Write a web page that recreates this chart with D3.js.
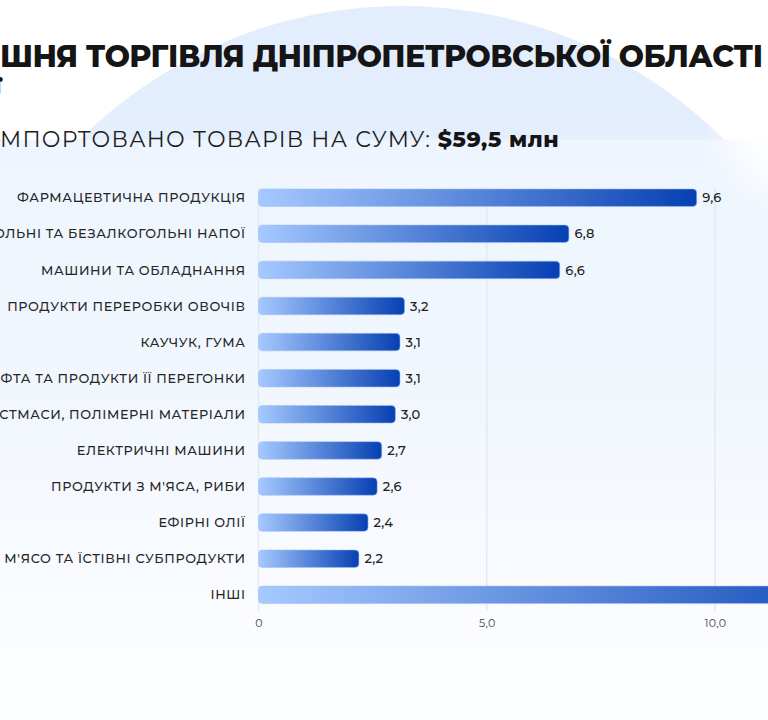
<!DOCTYPE html>
<html><head><meta charset="utf-8">
<script src="https://cdn.jsdelivr.net/npm/d3@7"></script>
<style>html,body{margin:0;padding:0;background:#fff;overflow:hidden}svg{display:block}</style>
</head><body><svg id="c" width="768" height="720"></svg>
<script>
// ---- data ----
const titleLines = ["ЗОВНІШНЯ ТОРГІВЛЯ ДНІПРОПЕТРОВСЬКОЇ ОБЛАСТІ ТА", "ІТАЛІЇ"];
const subtitleText = "ІМПОРТОВАНО ТОВАРІВ НА СУМУ:";
const subtitleValue = "$59,5 млн";
const categories = [
  "ФАРМАЦЕВТИЧНА ПРОДУКЦІЯ",
  "АЛКОГОЛЬНІ ТА БЕЗАЛКОГОЛЬНІ НАПОЇ",
  "МАШИНИ ТА ОБЛАДНАННЯ",
  "ПРОДУКТИ ПЕРЕРОБКИ ОВОЧІВ",
  "КАУЧУК, ГУМА",
  "НАФТА ТА ПРОДУКТИ ЇЇ ПЕРЕГОНКИ",
  "ПЛАСТМАСИ, ПОЛІМЕРНІ МАТЕРІАЛИ",
  "ЕЛЕКТРИЧНІ МАШИНИ",
  "ПРОДУКТИ З М'ЯСА, РИБИ",
  "ЕФІРНІ ОЛІЇ",
  "М'ЯСО ТА ЇСТІВНІ СУБПРОДУКТИ",
  "ІНШІ"
];
const values = [9.6, 6.8, 6.6, 3.2, 3.1, 3.1, 3.0, 2.7, 2.6, 2.4, 2.2, 14.2];
const xTicks = [0, 5, 10, 15];

// ---- setup ----
const locale = d3.formatLocale({decimal: ",", thousands: " ", grouping: [3], currency: ["$", ""]});
const f1 = locale.format(".1f");
const tickFmt = d => d === 0 ? "0" : f1(d);

const svg = d3.select("#c");
const W = 768, H = 720;
const defs = svg.append("defs");
const FONT = "Montserrat, Inter, 'Noto Sans', sans-serif";

// background
svg.append("rect").attr("width", W).attr("height", H).attr("fill", "#ffffff");
const cg = defs.append("linearGradient").attr("id", "circ").attr("x1", 0).attr("y1", 0).attr("x2", 0).attr("y2", 1);
cg.append("stop").attr("offset", "0%").attr("stop-color", "#e2edfd");
cg.append("stop").attr("offset", "100%").attr("stop-color", "#eef5fe");
svg.append("circle").attr("cx", 402).attr("cy", 461).attr("r", 455).attr("fill", "url(#circ)");

const pg = defs.append("linearGradient").attr("id", "panel").attr("x1", 0).attr("y1", 0).attr("x2", 0).attr("y2", 1);
[["0%", "#eef5fe"], ["45%", "#f2f7fe"], ["75%", "#f9fbff"], ["85%", "#fcfdff"], ["100%", "#fdfeff"]]
  .forEach(([o, c]) => pg.append("stop").attr("offset", o).attr("stop-color", c));
svg.append("rect").attr("x", -40).attr("y", 139.5).attr("width", 840).attr("height", 600).attr("fill", "url(#panel)");

const glow = defs.append("radialGradient").attr("id", "glow");
glow.append("stop").attr("offset", "0%").attr("stop-color", "#ffffff").attr("stop-opacity", 1);
glow.append("stop").attr("offset", "45%").attr("stop-color", "#ffffff").attr("stop-opacity", 0.9);
glow.append("stop").attr("offset", "100%").attr("stop-color", "#ffffff").attr("stop-opacity", 0);
svg.append("circle").attr("cx", 800).attr("cy", 125).attr("r", 100).attr("fill", "url(#glow)");

// helper to measure text
function measure(txt, size, weight, ls) {
  const t = svg.append("text").attr("font-family", FONT).attr("font-size", size)
    .attr("font-weight", weight).attr("letter-spacing", ls || 0).text(txt);
  const w = t.node().getComputedTextLength();
  t.remove();
  return w;
}

// ---- title ----
defs.append("clipPath").attr("id", "tclip").append("rect").attr("x", -300).attr("y", 0).attr("width", 1400).attr("height", 93.5);
const tSize = 30, tW = 800;
const visible1 = "ШНЯ ТОРГІВЛЯ ДНІПРОПЕТРОВСЬКОЇ ОБЛАСТІ";
const w0 = measure(visible1, tSize, tW, 0);
const tls = (763 - w0) / (visible1.length - 1);
const tx1 = -measure("ЗОВНІ", tSize, tW, tls);
const tx2 = -measure(titleLines[1].slice(0, -1), tSize, tW, tls) - 8;
const tg = svg.append("g").attr("clip-path", "url(#tclip)");
tg.selectAll("text").data(titleLines).join("text")
  .attr("x", (d, i) => i === 0 ? tx1 : tx2).attr("y", (d, i) => 67.3 + i * 37.5)
  .attr("font-family", FONT).attr("font-size", tSize).attr("font-weight", tW)
  .attr("letter-spacing", tls).attr("fill", "#151515").text(d => d);

// ---- subtitle ----
const sSize = 22;
const sw0 = measure(subtitleText.slice(1), sSize, 400, 0);
const sls = (430 - sw0) / (subtitleText.length - 2);
const sHidden = measure(subtitleText.slice(0, 1), sSize, 400, sls);
svg.append("text").attr("x", -sHidden).attr("y", 147)
  .attr("font-family", FONT).attr("font-size", sSize).attr("font-weight", 400)
  .attr("letter-spacing", sls).attr("fill", "#1e1e1e").text(subtitleText);
const vw0 = measure(subtitleValue, sSize, 800, 0);
const vls = (121 - vw0) / (subtitleValue.length - 1);
svg.append("text").attr("x", 437.7).attr("y", 147)
  .attr("font-family", FONT).attr("font-size", sSize).attr("font-weight", 800)
  .attr("letter-spacing", vls).attr("fill", "#151515").text(subtitleValue);

// ---- scales ----
const x0 = 258.5, unit = 45.65;
const x = d3.scaleLinear().domain([0, 15]).range([x0, x0 + 15 * unit]);
const step = 36.1, firstCenter = 197.7;
const y = d3.scaleBand().domain(categories)
  .range([firstCenter - step / 2, firstCenter - step / 2 + step * categories.length])
  .paddingInner(0.515).paddingOuter(0.2575);

// grid
svg.append("g").selectAll("line").data(xTicks).join("line")
  .attr("x1", d => x(d)).attr("x2", d => x(d))
  .attr("y1", 188).attr("y2", 611)
  .attr("stroke", "#e3e9f1").attr("stroke-width", 1.4);

// axis labels
const axis = d3.axisBottom(x).tickValues(xTicks).tickFormat(tickFmt).tickSize(0).tickPadding(0);
const ag = svg.append("g").attr("transform", "translate(0,619)").call(axis);
ag.select(".domain").remove();
ag.selectAll("text").attr("font-family", FONT).attr("font-size", 11).attr("fill", "#444")
  .attr("dy", "0.71em").attr("letter-spacing", 0.3);

// bars
const bg = defs.append("linearGradient").attr("id", "barg").attr("x1", 0).attr("y1", 0).attr("x2", 1).attr("y2", 0);
bg.append("stop").attr("offset", "0%").attr("stop-color", "#a6c9ff");
bg.append("stop").attr("offset", "100%").attr("stop-color", "#0640b2");
svg.append("g").selectAll("rect").data(values).join("rect")
  .attr("x", x(0)).attr("y", (d, i) => y(categories[i]))
  .attr("width", d => x(d) - x(0)).attr("height", y.bandwidth())
  .attr("rx", 4).attr("fill", "url(#barg)")
  .attr("stroke", "#9fc0f7").attr("stroke-opacity", 0.7).attr("stroke-width", 0.8);

// value labels
svg.append("g").selectAll("text").data(values).join("text")
  .attr("x", d => x(d) + 5.5).attr("y", (d, i) => y(categories[i]) + y.bandwidth() / 2)
  .attr("dy", "0.36em").attr("font-family", FONT).attr("font-size", 13).attr("font-weight", 500)
  .attr("fill", "#222").attr("letter-spacing", 0.2).text(d => f1(d));

// category labels
const lSize = 12.8, lWt = 500;
const lw0 = measure(categories[0], lSize, lWt, 0);
const lls = (228 - lw0) / (categories[0].length - 1);
svg.append("g").selectAll("text").data(categories).join("text")
  .attr("x", 245 + lls).attr("y", d => y(d) + y.bandwidth() / 2)
  .attr("dy", "0.36em").attr("text-anchor", "end")
  .attr("font-family", FONT).attr("font-size", lSize).attr("font-weight", lWt).attr("letter-spacing", lls)
  .attr("fill", "#262626").text(d => d);
</script>
</body></html>
